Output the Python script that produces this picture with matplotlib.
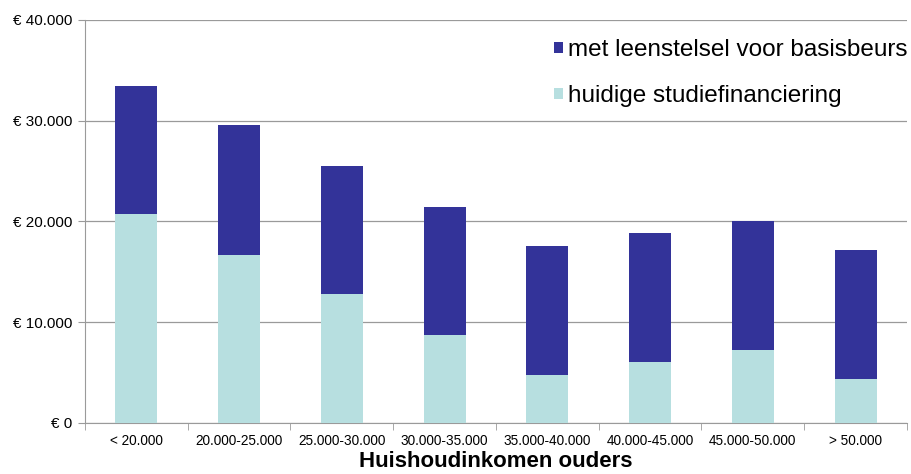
import matplotlib
matplotlib.use("Agg")
import matplotlib.pyplot as plt
from matplotlib.ticker import FuncFormatter, FixedLocator
import numpy as np

categories = ["< 20.000", "20.000-25.000", "25.000-30.000", "30.000-35.000",
              "35.000-40.000", "40.000-45.000", "45.000-50.000", "> 50.000"]
huidige = [20700, 16700, 12800, 8700, 4800, 6050, 7250, 4400]
leenstelsel_extra = [12750, 12900, 12700, 12700, 12800, 12850, 12800, 12800]

plt.rcParams['font.family'] = ['Liberation Sans', 'DejaVu Sans']

fig = plt.figure(figsize=(9.11, 4.74), dpi=100)
ax = fig.add_axes([0.0933, 0.1076, 0.9023, 0.8504])

x = np.arange(len(categories))
light = "#b7dfe0"
dark = "#333399"
ax.bar(x, huidige, width=0.41, color=light, zorder=3, label="huidige studiefinanciering")
ax.bar(x, leenstelsel_extra, width=0.41, bottom=huidige, color=dark, zorder=3,
       label="met leenstelsel voor basisbeurs")

ax.set_xlim(-0.5, len(categories) - 0.5)
ax.set_ylim(0, 40000)
ax.set_yticks(np.arange(0, 40001, 10000))
ax.yaxis.set_major_formatter(FuncFormatter(lambda v, p: "€ 0" if v == 0 else "€ " + f"{int(v):,}".replace(",", ".")))
ax.grid(axis="y", color="#9a9a9a", linewidth=0.9, zorder=0)

ax.set_xticks(x)
ax.set_xticklabels(categories, fontsize=9.8)
ax.tick_params(axis="x", length=0, pad=8)
ax.xaxis.set_minor_locator(FixedLocator(np.arange(-0.5, len(categories), 1)))
ax.tick_params(axis="x", which="minor", length=5, color="#9a9a9a")
ax.tick_params(axis="y", length=5, color="#9a9a9a", labelsize=11, pad=4)

for s in ["top", "right"]:
    ax.spines[s].set_visible(False)
ax.spines["left"].set_color("#9a9a9a")
ax.spines["bottom"].set_color("#9a9a9a")

ax.set_xlabel("Huishoudinkomen ouders", fontsize=16, fontweight="bold", labelpad=2)

handles, labels = ax.get_legend_handles_labels()
leg = fig.legend(handles[::-1], labels[::-1], loc="upper left",
                 bbox_to_anchor=(554 / 911, 1 - 39 / 474),
                 frameon=False, fontsize=17.5, handlelength=0.37, handleheight=0.3,
                 handletextpad=0.2, labelspacing=1.0, borderpad=0, borderaxespad=0)

fig.savefig("out.png", dpi=100)
